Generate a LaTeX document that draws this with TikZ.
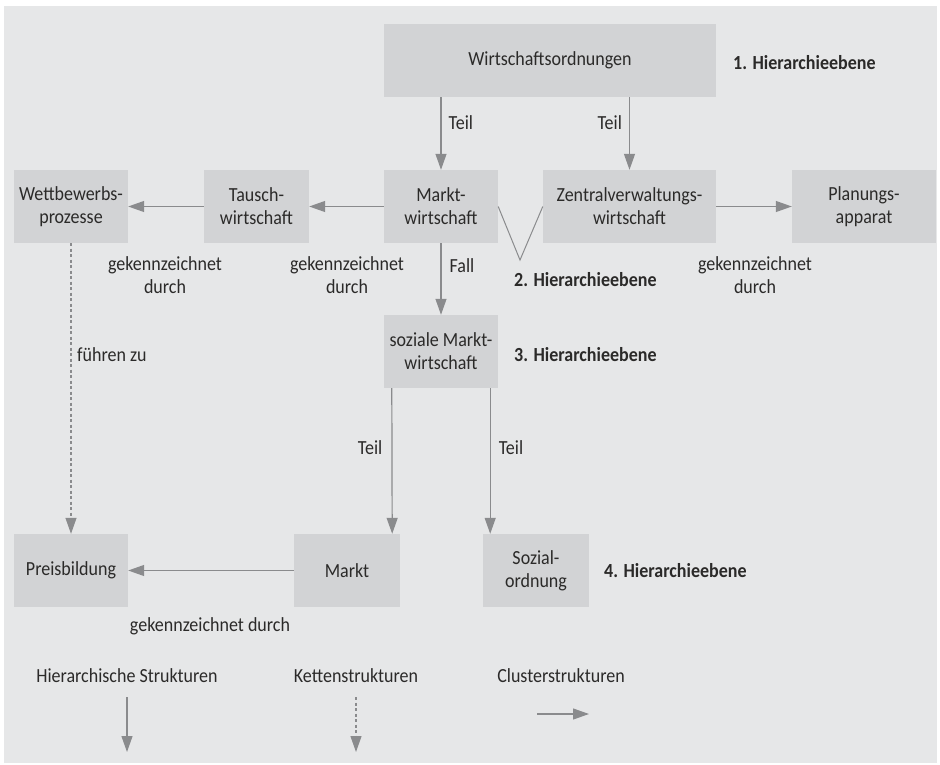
\documentclass[tikz,border=0pt]{standalone}
\usepackage{fontspec}
\setmainfont{Carlito}[FakeStretch=0.9]
\usepackage{xcolor}
\usetikzlibrary{arrows.meta,positioning}
\definecolor{bgc}{HTML}{E6E7E8}
\definecolor{boxc}{HTML}{D2D3D5}
\definecolor{linec}{HTML}{8A8B8D}
\definecolor{txt}{HTML}{2B2A29}

\begin{document}
\begin{tikzpicture}[
  x=1pt, y=-1pt,
  box/.style={fill=boxc, text=txt, align=center, inner sep=0pt, minimum height=73pt,
    font=\fontsize{20}{23}\selectfont},
  lbl/.style={text=txt, align=center, inner sep=0pt, font=\fontsize{20}{23}\selectfont},
  lvl/.style={text=txt, anchor=west, inner sep=0pt, font=\fontsize{20}{23}\selectfont\bfseries},
  hier/.style={draw=linec, line width=1.2pt, -{Triangle[length=16pt, width=11pt]}},
  chain/.style={hier, dash pattern=on 3pt off 2.5pt},
]

% frame
\useasboundingbox (0,0) rectangle (940,765);
\fill[bgc] (4,6) rectangle (937,763);

% 1. level
\node[box, minimum width=332pt] (wo) at (550,60.5) {Wirtschaftsordnungen};
\node[lvl] (lvl1) at (733,63) {1. Hierarchieebene};

% 2. level
\node[box, minimum width=114pt] (wett)    at (71,206.5)    {Wettbewerbs-\\prozesse};
\node[box, minimum width=105pt] (tausch)  at (256.5,206.5) {Tausch-\\wirtschaft};
\node[box, minimum width=114pt] (mwirt)   at (441,206.5)   {Markt-\\wirtschaft};
\node[box, minimum width=173pt] (zentral) at (629.5,206.5) {Zentralverwaltungs-\\wirtschaft};
\node[box, minimum width=144pt] (plan)    at (864,206.5)   {Planungs-\\apparat};
\node[lvl] (lvl2) at (514,280) {2. Hierarchieebene};

% 3. level
\node[box, minimum width=114pt] (sozmw) at (441,351.5) {soziale Markt-\\wirtschaft};
\node[lvl] (lvl3) at (514,355) {3. Hierarchieebene};

% 4. level
\node[box, minimum width=114pt] (preis)  at (71,570.5)  {Preisbildung};
\node[box, minimum width=106pt] (markt)  at (347,570.5) {Markt};
\node[box, minimum width=106pt] (sozord) at (536,570.5) {Sozial-\\ordnung};
\node[lvl] (lvl4) at (604,571) {4. Hierarchieebene};

% hierarchies
\draw[hier] (wo.south -| mwirt) -- node[lbl, pos=0.35, right=7pt] (teil1) {Teil} (mwirt.north);
\draw[hier] (wo.south -| zentral) -- node[lbl, pos=0.35, left=7pt] (teil2) {Teil} (zentral.north);
\draw[hier] (mwirt.south) -- node[lbl, pos=0.31, right=8pt] (fall) {Fall} (sozmw.north);
\draw[hier] ([xshift=8pt]sozmw.south west) -- node[lbl, pos=0.41, left=9pt] (teil3) {Teil}
  ([xshift=-8pt]markt.north east);
\draw[hier] ([xshift=-8pt]sozmw.south east) -- node[lbl, pos=0.41, right=8pt] (teil4) {Teil}
  ([xshift=-8pt]sozmw.south east |- sozord.north);

% the V between both systems
\coordinate (vtip) at (520,260);
\draw[draw=linec, line width=1pt] (mwirt.east) -- (vtip) -- (zentral.west);

% clusters
\draw[hier] (tausch.west) -- (wett.east);
\draw[hier] (mwirt.west) -- (tausch.east);
\draw[hier] (zentral.east) -- (plan.west);
\draw[hier] (markt.west) -- (preis.east);
\node[lbl] (gek1) at (165,275) {gekennzeichnet\\durch};
\node[lbl] (gek2) at (347,275) {gekennzeichnet\\durch};
\node[lbl] (gek3) at (755,275) {gekennzeichnet\\durch};
\node[lbl] (gek4) at (210,626) {gekennzeichnet durch};

% chain
\draw[chain] (wett.south) -- (preis.north);
\node[lbl, anchor=west] (fuehr) at (77,355) {führen zu};

% legend
\node[lbl] (leg1) at (127,676) {Hierarchische Strukturen};
\node[lbl] (leg2) at (356,676) {Kettenstrukturen};
\node[lbl] (leg3) at (561,676) {Clusterstrukturen};
\coordinate (h1) at (127,697); \coordinate (h2) at (127,752);
\coordinate (k1) at (356,697); \coordinate (k2) at (356,752);
\coordinate (c1) at (537,714); \coordinate (c2) at (589,714);
\draw[hier] (h1) -- (h2);
\draw[chain] (k1) -- (k2);
\draw[hier] (c1) -- (c2);

\end{tikzpicture}
\end{document}
